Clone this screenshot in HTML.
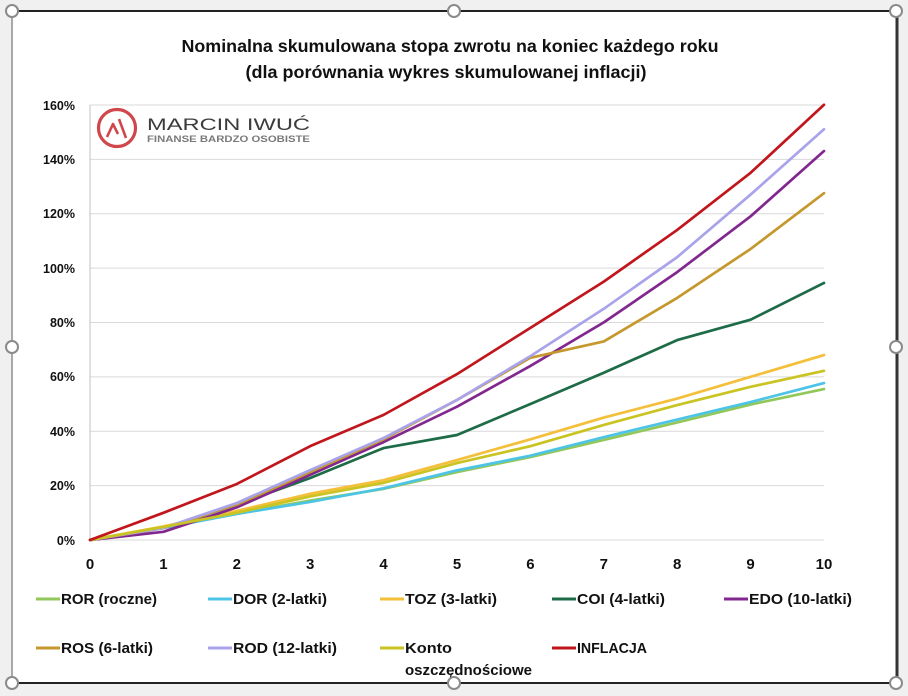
<!DOCTYPE html>
<html>
<head>
<meta charset="utf-8">
<style>
html,body{margin:0;padding:0;background:#f0f0f0;}
svg{display:block;}
text{font-family:"Liberation Sans","DejaVu Sans",sans-serif;}
</style>
</head>
<body>
<svg width="908" height="696" viewBox="0 0 908 696" xmlns="http://www.w3.org/2000/svg">
  <rect x="0" y="0" width="908" height="696" fill="#f0f0f0"/>
  <rect x="12" y="11" width="885" height="672" fill="#ffffff"/>
  <!-- frame borders -->
  <line x1="12" y1="11" x2="897" y2="11" stroke="#222" stroke-width="2"/>
  <line x1="12" y1="11" x2="12" y2="683" stroke="#a8a8a8" stroke-width="2"/>
  <line x1="897" y1="11" x2="897" y2="683" stroke="#333" stroke-width="3"/>
  <line x1="12" y1="683" x2="897" y2="683" stroke="#222" stroke-width="2"/>

  <!-- title -->
  <text x="450" y="52" text-anchor="middle" font-size="17.5" font-weight="bold" fill="#111" textLength="537" lengthAdjust="spacingAndGlyphs">Nominalna skumulowana stopa zwrotu na koniec każdego roku</text>
  <text x="446" y="78" text-anchor="middle" font-size="17.5" font-weight="bold" fill="#111" textLength="401" lengthAdjust="spacingAndGlyphs">(dla porównania wykres skumulowanej inflacji)</text>

  <!-- gridlines -->
  <g stroke="#d9d9d9" stroke-width="1">
    <line x1="90" y1="105" x2="824" y2="105"/>
    <line x1="90" y1="159.4" x2="824" y2="159.4"/>
    <line x1="90" y1="213.8" x2="824" y2="213.8"/>
    <line x1="90" y1="268.1" x2="824" y2="268.1"/>
    <line x1="90" y1="322.5" x2="824" y2="322.5"/>
    <line x1="90" y1="376.9" x2="824" y2="376.9"/>
    <line x1="90" y1="431.3" x2="824" y2="431.3"/>
    <line x1="90" y1="485.6" x2="824" y2="485.6"/>
    <line x1="90" y1="540" x2="824" y2="540"/>
  </g>
  <line x1="90" y1="105" x2="90" y2="540" stroke="#c0c0c0" stroke-width="1"/>

  <!-- y labels -->
  <g font-size="12.5" font-weight="bold" fill="#111" text-anchor="end">
    <text x="75" y="110">160%</text>
    <text x="75" y="164">140%</text>
    <text x="75" y="218">120%</text>
    <text x="75" y="273">100%</text>
    <text x="75" y="327">80%</text>
    <text x="75" y="381">60%</text>
    <text x="75" y="436">40%</text>
    <text x="75" y="490">20%</text>
    <text x="75" y="545">0%</text>
  </g>

  <!-- x labels -->
  <g font-size="15" font-weight="bold" fill="#111" text-anchor="middle">
    <text x="90" y="569">0</text>
    <text x="163.4" y="569">1</text>
    <text x="236.8" y="569">2</text>
    <text x="310.2" y="569">3</text>
    <text x="383.6" y="569">4</text>
    <text x="457" y="569">5</text>
    <text x="530.4" y="569">6</text>
    <text x="603.8" y="569">7</text>
    <text x="677.2" y="569">8</text>
    <text x="750.6" y="569">9</text>
    <text x="824" y="569">10</text>
  </g>

  <!-- logo -->
  <circle cx="117" cy="128" r="18.5" fill="none" stroke="#d0474b" stroke-width="3.2"/>
  <polyline points="107,137 113,124 118,134" fill="none" stroke="#d0474b" stroke-width="2.6" stroke-linejoin="round"/>
  <line x1="119" y1="119" x2="126" y2="138" stroke="#d0474b" stroke-width="2.6"/>
  <text x="147" y="130" font-size="16.5" fill="#3c3c3c" textLength="163" lengthAdjust="spacingAndGlyphs">MARCIN IWUĆ</text>
  <text x="147" y="142" font-size="9" font-weight="bold" fill="#7a7a7a" textLength="163" lengthAdjust="spacingAndGlyphs">FINANSE BARDZO OSOBISTE</text>

  <!-- series -->
  <g transform="translate(90,540) scale(73.4,-2.72)" fill="none" stroke-linejoin="round" stroke-linecap="round">
    <polyline vector-effect="non-scaling-stroke" stroke="#92c85a" stroke-width="2.7" points="0,0 1,4.8 2,9.6 3,14.5 4,18.8 5,25 6,30.5 7,36.8 8,43.2 9,49.8 10,55.5"/>
    <polyline vector-effect="non-scaling-stroke" stroke="#4cc4e6" stroke-width="2.7" points="0,0 1,4.4 2,9.6 3,14 4,19 5,25.6 6,31 7,37.8 8,44.3 9,50.7 10,57.7"/>
    <polyline vector-effect="non-scaling-stroke" stroke="#f4bf3a" stroke-width="2.7" points="0,0 1,5 2,10.7 3,17 4,22 5,29.4 6,37 7,45 8,52 9,60 10,68"/>
    <polyline vector-effect="non-scaling-stroke" stroke="#1d6b47" stroke-width="2.7" points="0,0 1,4.4 2,13 3,22.8 4,33.8 5,38.6 6,50 7,61.5 8,73.5 9,81 10,94.5"/>
    <polyline vector-effect="non-scaling-stroke" stroke="#82278f" stroke-width="2.7" points="0,0 1,3 2,12 3,24 4,36 5,49 6,64 7,80 8,98.5 9,119 10,143"/>
    <polyline vector-effect="non-scaling-stroke" stroke="#c4982c" stroke-width="2.7" points="0,0 1,4.4 2,13 3,25 4,37 5,51.5 6,67 7,73 8,89 9,107 10,127.5"/>
    <polyline vector-effect="non-scaling-stroke" stroke="#a9a3ea" stroke-width="2.7" points="0,0 1,4.4 2,13.6 3,25.7 4,37.5 5,51.5 6,67.6 7,85 8,104 9,127 10,151"/>
    <polyline vector-effect="non-scaling-stroke" stroke="#c9c422" stroke-width="2.7" points="0,0 1,4.8 2,10 3,16 4,21 5,28.3 6,34.5 7,42.3 8,49.6 9,56.3 10,62.2"/>
    <polyline vector-effect="non-scaling-stroke" stroke="#c0161c" stroke-width="2.7" points="0,0 1,10 2,20.6 3,34.5 4,46 5,61 6,78 7,95 8,114 9,135 10,160"/>
  </g>

  <!-- legend -->
  <g stroke-width="3">
    <line x1="36" y1="599" x2="60" y2="599" stroke="#92c85a"/>
    <line x1="208" y1="599" x2="232" y2="599" stroke="#4cc4e6"/>
    <line x1="380" y1="599" x2="404" y2="599" stroke="#f4bf3a"/>
    <line x1="552" y1="599" x2="576" y2="599" stroke="#1d6b47"/>
    <line x1="724" y1="599" x2="748" y2="599" stroke="#82278f"/>
    <line x1="36" y1="648" x2="60" y2="648" stroke="#c4982c"/>
    <line x1="208" y1="648" x2="232" y2="648" stroke="#a9a3ea"/>
    <line x1="380" y1="648" x2="404" y2="648" stroke="#c9c422"/>
    <line x1="552" y1="648" x2="576" y2="648" stroke="#c0161c"/>
  </g>
  <g font-size="15" font-weight="bold" fill="#111">
    <text x="61" y="604" textLength="96" lengthAdjust="spacingAndGlyphs">ROR (roczne)</text>
    <text x="233" y="604" textLength="94" lengthAdjust="spacingAndGlyphs">DOR (2-latki)</text>
    <text x="405" y="604" textLength="92" lengthAdjust="spacingAndGlyphs">TOZ (3-latki)</text>
    <text x="577" y="604" textLength="88" lengthAdjust="spacingAndGlyphs">COI (4-latki)</text>
    <text x="749" y="604" textLength="103" lengthAdjust="spacingAndGlyphs">EDO (10-latki)</text>
    <text x="61" y="653" textLength="92" lengthAdjust="spacingAndGlyphs">ROS (6-latki)</text>
    <text x="233" y="653" textLength="104" lengthAdjust="spacingAndGlyphs">ROD (12-latki)</text>
    <text x="405" y="653" textLength="47" lengthAdjust="spacingAndGlyphs">Konto</text>
    <text x="405" y="675" textLength="127" lengthAdjust="spacingAndGlyphs">oszczędnościowe</text>
    <text x="577" y="653" textLength="70" lengthAdjust="spacingAndGlyphs">INFLACJA</text>
  </g>

  <!-- selection handles -->
  <g fill="#ffffff" stroke="#8a8a8a" stroke-width="2">
    <circle cx="12" cy="11" r="6"/>
    <circle cx="454" cy="11" r="6"/>
    <circle cx="896" cy="11" r="6"/>
    <circle cx="12" cy="347" r="6"/>
    <circle cx="896" cy="347" r="6"/>
    <circle cx="12" cy="683" r="6"/>
    <circle cx="454" cy="683" r="6"/>
    <circle cx="896" cy="683" r="6"/>
  </g>
</svg>
</body>
</html>
